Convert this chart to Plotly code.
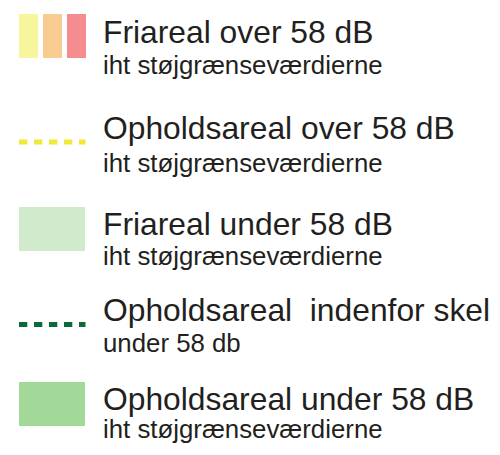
import plotly.graph_objects as go

# ---- content ----
titles = [
    "Friareal over 58 dB",
    "Opholdsareal over 58 dB",
    "Friareal under 58 dB",
    "Opholdsareal  indenfor skel",
    "Opholdsareal under 58 dB",
]
subtitles = [
    "iht støjgrænseværdierne",
    "iht støjgrænseværdierne",
    "iht støjgrænseværdierne",
    "under 58 db",
    "iht støjgrænseværdierne",
]
symbol_kind = ["tri_swatch", "dash", "swatch", "dash", "swatch"]
symbol_colors = [
    ["#F8F69C", "#F8CC90", "#F58C90"],
    ["#F1E838"],
    ["#D1EACB"],
    ["#0B6A3A"],
    ["#A2D898"],
]

# ---- layout constants (pixels) ----
W, H = 500, 455
title_baseline = [43, 139, 235, 321, 410.5]
sub_baseline = [74, 172, 265, 352, 438.5]
symbol_y = [14, 142, 207, 324.5, 382]   # swatch top or dash centre
text_x = 102
title_size = 31.8
sub_size = 25.8
text_color = "#231F20"
FONT = "Liberation Sans, Arial"

fig = go.Figure()

def rect(x0, x1, y0, y1, color):
    fig.add_trace(go.Scatter(
        x=[x0, x1, x1, x0, x0], y=[y0, y0, y1, y1, y0],
        mode="lines", fill="toself", fillcolor=color,
        line=dict(width=0, color=color), hoverinfo="skip", showlegend=False))

for i, kind in enumerate(symbol_kind):
    cols = symbol_colors[i]
    sy = symbol_y[i]
    if kind == "tri_swatch":
        for j, c in enumerate(cols):
            x0 = 19 + j * 24
            rect(x0, x0 + 19, sy, sy + 44, c)
    elif kind == "swatch":
        rect(19, 85, sy, sy + 44, cols[0])
    else:
        fig.add_trace(go.Scatter(
            x=[19, 85.5], y=[sy, sy], mode="lines",
            line=dict(color=cols[0], width=5, dash="8.3px,6.7px"),
            hoverinfo="skip", showlegend=False))

for i in range(len(titles)):
    fig.add_annotation(x=text_x, y=title_baseline[i] - 0.35 * title_size,
                       text=titles[i], xanchor="left", yanchor="middle",
                       showarrow=False, borderpad=0,
                       font=dict(family=FONT, size=title_size, color=text_color))
    fig.add_annotation(x=text_x, y=sub_baseline[i] - 0.35 * sub_size,
                       text=subtitles[i], xanchor="left", yanchor="middle",
                       showarrow=False, borderpad=0,
                       font=dict(family=FONT, size=sub_size, color=text_color))

fig.update_layout(
    width=W, height=H, margin=dict(l=0, r=0, t=0, b=0),
    paper_bgcolor="white", plot_bgcolor="white",
    xaxis=dict(range=[0, W], visible=False, fixedrange=True),
    yaxis=dict(range=[H, 0], visible=False, fixedrange=True),
    showlegend=False,
)
fig.write_html("out.html", config={"displayModeBar": False},
               post_script="document.body.style.margin='0';document.body.style.overflow='hidden';")
